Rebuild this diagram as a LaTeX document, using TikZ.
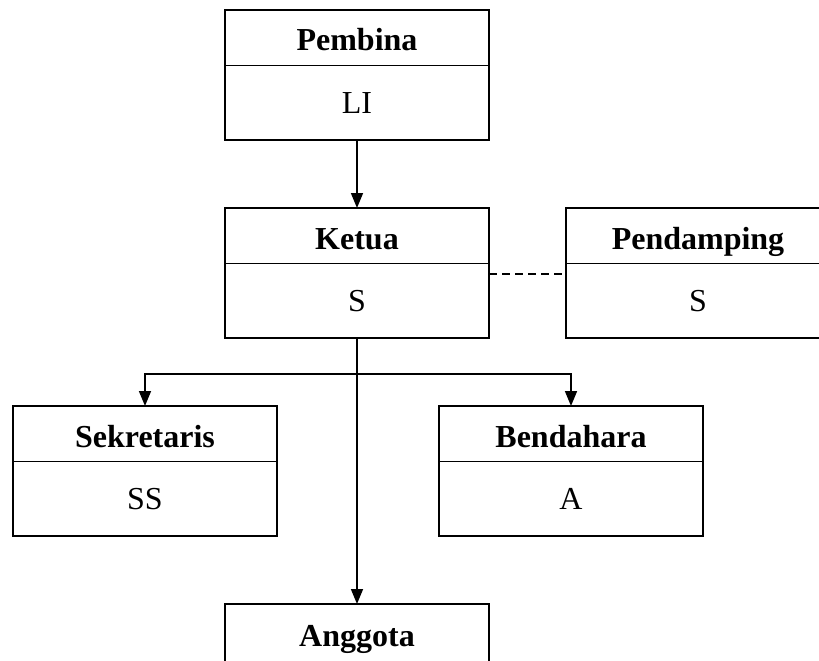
\documentclass[tikz,border=0pt]{standalone}
\usepackage{fontspec}
\setmainfont{Liberation Serif}
\usetikzlibrary{arrows.meta}
\newcommand\orgunit[5]{%
  \node[orgbox,anchor=north] (#1) at (#2,#3) {};
  \draw[conn] ([yshift=-55.5pt]#1.north west) -- ([yshift=-55.5pt]#1.north east);
  \node[headtxt] (#1-h) at (#2,#3+41) {#4};
  \node[bodytxt] (#1-b) at (#2,#3+103) {#5};
}
\begin{document}
\begin{tikzpicture}[x=1pt,y=-1pt,
  orgbox/.style={draw,line width=1.6pt,minimum width=264pt,minimum height=130pt,inner sep=0pt,outer sep=0pt},
  headtxt/.style={anchor=base,font=\fontsize{32}{38}\selectfont\bfseries,inner sep=0pt},
  bodytxt/.style={anchor=base,font=\fontsize{32}{38}\selectfont,inner sep=0pt},
  conn/.style={line width=1.6pt},
  arr/.style={conn,-{Triangle[length=15pt,width=12pt]}}]
\useasboundingbox (0,0) rectangle (819,661);
\clip (0,0) rectangle (819,661);
\orgunit{pembina}{357}{10}{Pembina}{LI}
\orgunit{ketua}{357}{208}{Ketua}{S}
\orgunit{pendamping}{698}{208}{Pendamping}{S}
\orgunit{sekretaris}{145}{406}{Sekretaris}{SS}
\orgunit{bendahara}{571}{406}{Bendahara}{A}
\node[orgbox,anchor=north] (anggota) at (357,604) {};
\node[headtxt] (anggota-h) at (357,646) {Anggota};
\coordinate (branch) at (357,374);
\draw[arr] (pembina.south) -- (ketua.north);
\draw[arr] (ketua.south) -- (anggota.north);
\draw[arr] (branch) -| (sekretaris.north);
\draw[arr] (branch) -| (bendahara.north);
\draw[conn,dash pattern=on 8pt off 5pt] ([yshift=-66pt]ketua.north east) -- ([yshift=-66pt]pendamping.north west);
\end{tikzpicture}
\end{document}
